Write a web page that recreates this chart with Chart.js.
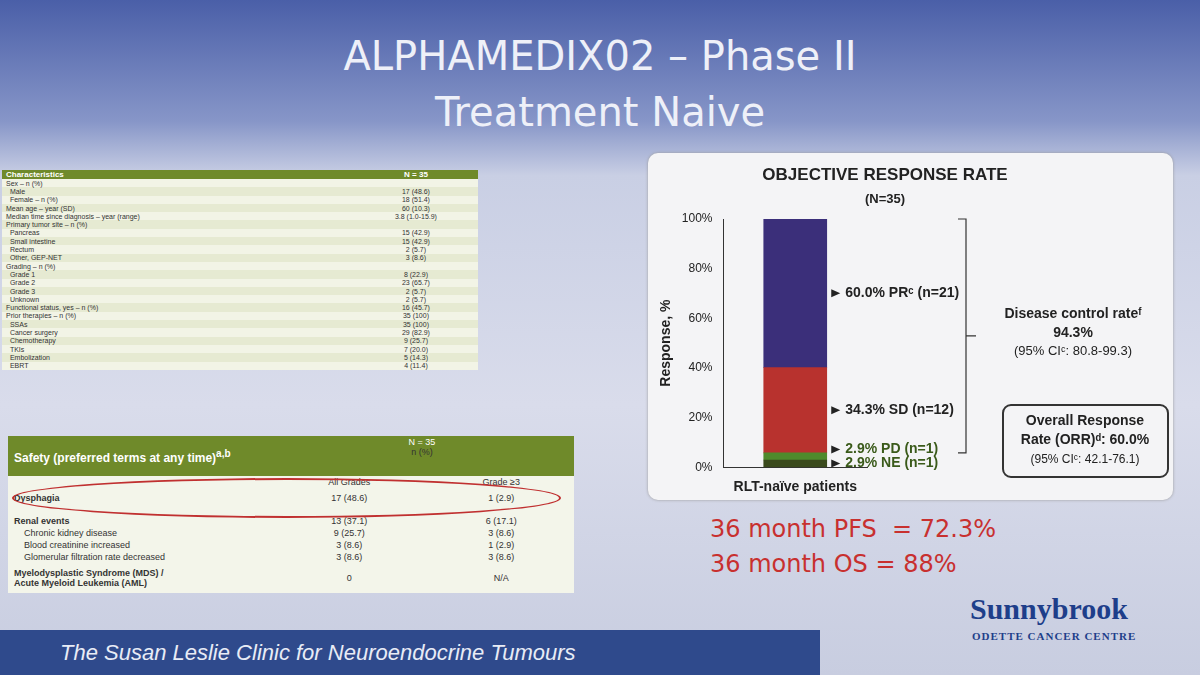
<!DOCTYPE html>
<html><head><meta charset="utf-8">
<script src="https://cdn.jsdelivr.net/npm/chart.js@4.4.1/dist/chart.umd.min.js"></script>
<style>
body{margin:0;width:1200px;height:675px;overflow:hidden;font-family:"Liberation Sans",Arial,sans-serif;
background:linear-gradient(180deg,#4a5fa8 0%,#8796c8 18%,#c9cfe4 26%,#d9dceb 60%,#c8cde0 100%);position:relative}
#title{position:absolute;left:200px;top:28px;width:800px;text-align:center;color:#eef0f8;font-family:"DejaVu Sans";font-size:40px;line-height:56px}
#panel{position:absolute;left:648px;top:153px;width:525px;height:347px;background:#f4f4f6;border-radius:10px;box-shadow:0 0 3px #999}
#wrap{position:absolute;left:648px;top:153px;width:525px;height:347px}
.red{position:absolute;left:710px;color:#c8302f;font-size:24px;font-family:"DejaVu Sans"}
#foot{position:absolute;left:0;top:630px;width:820px;height:45px;background:#2f4a8c;color:#e8ecf6;font-style:italic;font-size:22px;line-height:45px;padding-left:60px;box-sizing:border-box}
table{border-collapse:collapse;font-size:7px;color:#333}
#t1{position:absolute;left:2px;top:170px;width:476px}
#t1 td{padding:0 4px;height:8.3px;background:#e6ead2}
#t1 tr:nth-child(even) td{background:#f2f4e6}
#t1 th{background:#6f8a2a;color:#fff;text-align:left;padding:0 4px;font-size:8px}
#t2{position:absolute;left:8px;top:436px;width:566px;background:#f3f5ea;font-size:9px}
#t2 td{padding:1px 6px}
#t2 tr.g td{padding:5px 6px}
#brand{position:absolute;left:970px;top:592px;color:#1e3e8a;font-family:"Liberation Serif";font-size:30px;font-weight:bold}
#brand2{position:absolute;left:972px;top:630px;color:#1e3e8a;font-family:"Liberation Serif";font-size:11px;font-weight:bold;letter-spacing:1px}
</style></head><body>
<div id="title">ALPHAMEDIX02 – Phase II<br>Treatment Naive</div>
<table id="t1">
<tr><th>Characteristics</th><th style="text-align:center">N = 35</th></tr>
<tr><td>Sex – n (%)</td><td></td></tr>
<tr><td>&nbsp;&nbsp;Male</td><td align="center">17 (48.6)</td></tr>
<tr><td>&nbsp;&nbsp;Female – n (%)</td><td align="center">18 (51.4)</td></tr>
<tr><td>Mean age – year (SD)</td><td align="center">60 (10.3)</td></tr>
<tr><td>Median time since diagnosis – year (range)</td><td align="center">3.8 (1.0-15.9)</td></tr>
<tr><td>Primary tumor site – n (%)</td><td></td></tr>
<tr><td>&nbsp;&nbsp;Pancreas</td><td align="center">15 (42.9)</td></tr>
<tr><td>&nbsp;&nbsp;Small intestine</td><td align="center">15 (42.9)</td></tr>
<tr><td>&nbsp;&nbsp;Rectum</td><td align="center">2 (5.7)</td></tr>
<tr><td>&nbsp;&nbsp;Other, GEP-NET</td><td align="center">3 (8.6)</td></tr>
<tr><td>Grading – n (%)</td><td></td></tr>
<tr><td>&nbsp;&nbsp;Grade 1</td><td align="center">8 (22.9)</td></tr>
<tr><td>&nbsp;&nbsp;Grade 2</td><td align="center">23 (65.7)</td></tr>
<tr><td>&nbsp;&nbsp;Grade 3</td><td align="center">2 (5.7)</td></tr>
<tr><td>&nbsp;&nbsp;Unknown</td><td align="center">2 (5.7)</td></tr>
<tr><td>Functional status, yes – n (%)</td><td align="center">16 (45.7)</td></tr>
<tr><td>Prior therapies – n (%)</td><td align="center">35 (100)</td></tr>
<tr><td>&nbsp;&nbsp;SSAs</td><td align="center">35 (100)</td></tr>
<tr><td>&nbsp;&nbsp;Cancer surgery</td><td align="center">29 (82.9)</td></tr>
<tr><td>&nbsp;&nbsp;Chemotherapy</td><td align="center">9 (25.7)</td></tr>
<tr><td>&nbsp;&nbsp;TKIs</td><td align="center">7 (20.0)</td></tr>
<tr><td>&nbsp;&nbsp;Embolization</td><td align="center">5 (14.3)</td></tr>
<tr><td>&nbsp;&nbsp;EBRT</td><td align="center">4 (11.4)</td></tr>
</table>
<table id="t2">
<tr><td style="background:#6f8a2a;color:#fff;font-weight:bold;font-size:12px;height:38px;width:250px">Safety (preferred terms at any time)<sup>a,b</sup></td><td colspan="2" style="background:#6f8a2a;color:#fff;text-align:center;vertical-align:top">N = 35<br><span style="color:#333;font-weight:normal">n (%)</span></td></tr>
<tr><td></td><td align="center">All Grades</td><td align="center">Grade ≥3</td></tr>
<tr class="g"><td style="font-weight:bold">Dysphagia</td><td align="center">17 (48.6)</td><td align="center">1 (2.9)</td></tr>
<tr><td style="font-weight:bold;padding-top:8px">Renal events</td><td align="center" style="padding-top:8px">13 (37.1)</td><td align="center" style="padding-top:8px">6 (17.1)</td></tr>
<tr><td>&nbsp;&nbsp;&nbsp;&nbsp;Chronic kidney disease</td><td align="center">9 (25.7)</td><td align="center">3 (8.6)</td></tr>
<tr><td>&nbsp;&nbsp;&nbsp;&nbsp;Blood creatinine increased</td><td align="center">3 (8.6)</td><td align="center">1 (2.9)</td></tr>
<tr><td>&nbsp;&nbsp;&nbsp;&nbsp;Glomerular filtration rate decreased</td><td align="center">3 (8.6)</td><td align="center">3 (8.6)</td></tr>
<tr class="g"><td style="font-weight:bold">Myelodysplastic Syndrome (MDS) /<br>Acute Myeloid Leukemia (AML)</td><td align="center">0</td><td align="center">N/A</td></tr>
</table>
<div style="position:absolute;left:12px;top:478px;width:545px;height:36px;border:2px solid #c03030;border-radius:50%"></div>
<div id="panel"></div>
<div id="wrap"><canvas id="orr"></canvas></div>
<div class="red" style="top:515px">36 month PFS&nbsp; = 72.3%</div>
<div class="red" style="top:550px">36 month OS = 88%</div>
<div id="foot">The Susan Leslie Clinic for Neuroendocrine Tumours</div>
<div id="brand">Sunnybrook</div>
<div id="brand2">ODETTE CANCER CENTRE</div>
<script>
var categories = ['RLT-naïve patients'];
var seriesNames = ['NE', 'PD', 'SD', 'PR'];
var seriesValues = [2.9, 2.9, 34.3, 60.0];
var seriesCounts = [1, 1, 12, 21];
var seriesColors = ['#3a4a1c', '#4f8a2c', '#b8322e', '#3b2f7a'];
var yTicks = [0, 20, 40, 60, 80, 100];

var labelOffsets = [0, -7, 0, 0];
var labelColors = ['#3a5a1a', '#3a5a1a', '#222', '#222'];

var annot = {
  id: 'annot',
  afterDraw: function (c) {
    var x = c.scales.x, y = c.scales.y, g = c.ctx;
    var barRight = x.getPixelForValue(0) + 32;
    var cum = 0;
    g.save();
    g.textAlign = 'center'; g.textBaseline = 'middle'; g.fillStyle = '#222';
    g.font = 'bold 17px "Liberation Sans"';
    g.fillText('OBJECTIVE RESPONSE RATE', 237, 22);
    g.font = 'bold 13px "Liberation Sans"';
    g.fillText('(N=35)', 237, 46);
    g.textAlign = 'left';
    g.font = 'bold 14px "Liberation Sans"';
    for (var i = 0; i < seriesValues.length; i++) {
      var mid = y.getPixelForValue(cum + seriesValues[i] / 2) + labelOffsets[i];
      cum += seriesValues[i];
      g.fillStyle = '#222';
      g.beginPath(); g.moveTo(barRight + 4, mid - 4); g.lineTo(barRight + 13, mid); g.lineTo(barRight + 4, mid + 4); g.fill();
      g.fillStyle = labelColors[i];
      g.fillText(seriesValues[i].toFixed(1) + '% ' + seriesNames[i] + (i === 3 ? 'ᶜ' : '') + ' (n=' + seriesCounts[i] + ')', barRight + 18, mid);
    }
    // bracket
    var top = y.getPixelForValue(100), bot = y.getPixelForValue(5.8), bx = 318;
    var midB = (top + bot) / 2;
    g.strokeStyle = '#333'; g.lineWidth = 1.2;
    g.beginPath(); g.moveTo(bx - 8, top); g.lineTo(bx, top); g.lineTo(bx, bot); g.lineTo(bx - 8, bot);
    g.moveTo(bx, midB); g.lineTo(bx + 10, midB); g.stroke();
    g.textAlign = 'center'; g.fillStyle = '#222';
    g.font = 'bold 14px "Liberation Sans"';
    g.fillText('Disease control rateᶠ', 425, midB - 22);
    g.fillText('94.3%', 425, midB - 3);
    g.font = '13px "Liberation Sans"';
    g.fillText('(95% CIᶜ: 80.8-99.3)', 425, midB + 16);
    // ORR box
    g.lineWidth = 2;
    g.beginPath(); g.roundRect(355, 252, 165, 72, 8); g.stroke();
    g.font = 'bold 14px "Liberation Sans"';
    g.fillText('Overall Response', 437, 268);
    g.fillText('Rate (ORR)ᵈ: 60.0%', 437, 287);
    g.font = '12px "Liberation Sans"';
    g.fillText('(95% CIᶜ: 42.1-76.1)', 437, 307);
    g.restore();
  }
};

var datasets = seriesNames.map(function (n, i) {
  return { label: n, data: [seriesValues[i]], backgroundColor: seriesColors[i], barThickness: 63 };
});

new Chart(document.getElementById('orr'), {
  type: 'bar',
  data: { labels: categories, datasets: datasets },
  plugins: [annot],
  options: {
    responsive: true, maintainAspectRatio: false, animation: false,
    layout: { padding: { left: 6, right: 306, top: 66, bottom: 0 } },
    plugins: { legend: { display: false }, tooltip: { enabled: false } },
    scales: {
      x: { stacked: true, grid: { display: false }, border: { color: '#333' },
           ticks: { color: '#222', padding: 4, font: { size: 14, weight: 'bold' } } },
      y: { stacked: true, min: 0, max: 100, afterBuildTicks: function (s) { s.ticks = yTicks.map(function (v) { return { value: v }; }); },
           grid: { display: false }, border: { color: '#333' },
           ticks: { color: '#222', font: { size: 12 }, callback: function (v) { return v + '%'; } },
           title: { display: true, text: 'Response, %', color: '#222', font: { size: 14, weight: 'bold' } } }
    }
  }
});
</script>
</body></html>
